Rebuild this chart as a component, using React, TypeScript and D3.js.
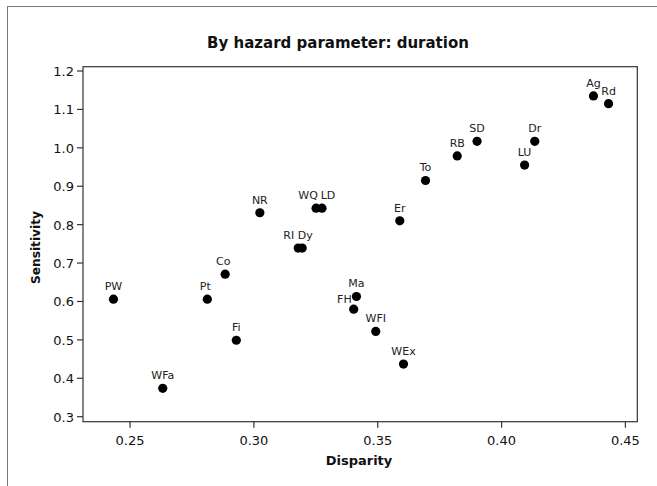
import React from "react";
import * as d3 from "d3";

const labels = ["PW", "WFa", "Pt", "Co", "Fi", "NR", "RI", "Dy", "WQ", "LD", "FH", "Ma", "WFI", "Er", "WEx", "To", "RB", "SD", "LU", "Dr", "Ag", "Rd"];
const disparity = [0.2433, 0.2632, 0.2812, 0.2884, 0.2929, 0.3024, 0.3179, 0.3195, 0.3251, 0.3275, 0.3403, 0.3414, 0.3492, 0.3589, 0.3604, 0.3693, 0.3821, 0.3901, 0.4093, 0.4134, 0.4371, 0.4432];
const sensitivity = [0.606, 0.374, 0.606, 0.671, 0.499, 0.831, 0.739, 0.739, 0.843, 0.843, 0.580, 0.613, 0.522, 0.810, 0.437, 0.915, 0.979, 1.017, 0.955, 1.017, 1.135, 1.115];
const xTicks = [0.25, 0.3, 0.35, 0.4, 0.45];
const yTicks = [0.3, 0.4, 0.5, 0.6, 0.7, 0.8, 0.9, 1.0, 1.1, 1.2];

const titleText = "By hazard parameter: duration";
const xLabel = "Disparity";
const yLabel = "Sensitivity";

// label nudges (styling only)
const nudges: Record<string, { dx: number; dy: number; anchor?: string }> = {
  WQ: { dx: -8, dy: 0 },
  LD: { dx: 6, dy: 0 },
  RI: { dx: -9.5, dy: 0 },
  Dy: { dx: 3, dy: 0 },
  Co: { dx: -2, dy: 0 },
  Pt: { dx: -2, dy: 0 },
  FH: { dx: -2, dy: 2.7, anchor: "end" },
};

const W = 657;
const H = 486;
const margin = { left: 83, right: 637.3, top: 66.7, bottom: 421.7 };
const font = "'DejaVu Sans', sans-serif";

export default function App() {
  const x = d3.scaleLinear().domain([0.231, 0.4548]).range([margin.left, margin.right]);
  const y = d3.scaleLinear().domain([0.287, 1.2112]).range([margin.bottom, margin.top]);

  return (
    <svg
      width={W}
      height={H}
      style={{ position: "fixed", left: 0, top: 0, background: "#fff" }}
      fontFamily={font}
    >
      <rect x={7.5} y={6.5} width={700} height={520} fill="none" stroke="#777" strokeWidth={1} />
      <text x={338} y={48} textAnchor="middle" fontSize={15} fontWeight="bold" fill="#111">
        {titleText}
      </text>
      <rect
        x={margin.left}
        y={margin.top}
        width={margin.right - margin.left}
        height={margin.bottom - margin.top}
        fill="none"
        stroke="#333"
        strokeWidth={1.2}
      />
      {yTicks.map((t) => (
        <g key={"y" + t}>
          <line x1={margin.left - 6} x2={margin.left} y1={y(t)} y2={y(t)} stroke="#333" strokeWidth={1.2} />
          <text x={74} y={y(t) + 5} textAnchor="end" fontSize={13} fill="#111">
            {d3.format(".1f")(t)}
          </text>
        </g>
      ))}
      {xTicks.map((t) => (
        <g key={"x" + t}>
          <line x1={x(t)} x2={x(t)} y1={margin.bottom} y2={margin.bottom + 6} stroke="#333" strokeWidth={1.2} />
          <text x={x(t)} y={445} textAnchor="middle" fontSize={13} fill="#111">
            {d3.format(".2f")(t)}
          </text>
        </g>
      ))}
      <text x={359} y={465} textAnchor="middle" fontSize={13} fontWeight="bold" fill="#111">
        {xLabel}
      </text>
      <text
        transform={`translate(39.5,247.5) rotate(-90)`}
        textAnchor="middle"
        fontSize={12.2}
        fontWeight="bold"
        fill="#111"
      >
        {yLabel}
      </text>
      {labels.map((lab, i) => {
        const cx = x(disparity[i]);
        const cy = y(sensitivity[i]);
        const n = nudges[lab] || { dx: 0, dy: 0 };
        return (
          <g key={lab}>
            <circle cx={cx} cy={cy} r={4.6} fill="#000" />
            <text
              x={cx + n.dx}
              y={cy - 9 + n.dy}
              textAnchor={n.anchor || "middle"}
              fontSize={11}
              fill="#222"
            >
              {lab}
            </text>
          </g>
        );
      })}
    </svg>
  );
}
